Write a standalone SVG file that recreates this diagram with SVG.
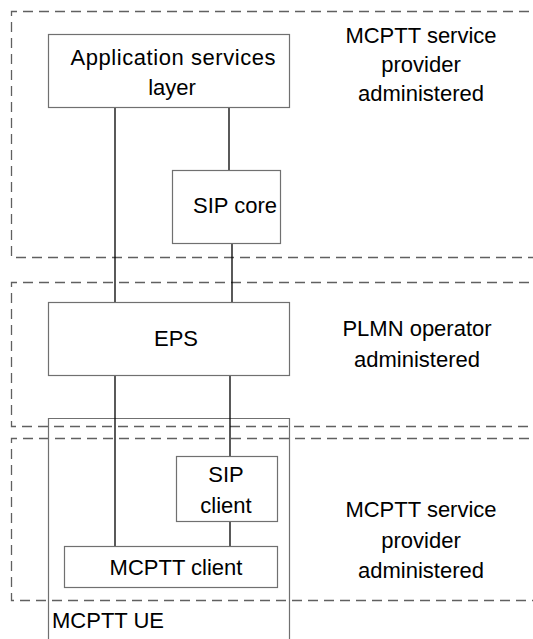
<svg xmlns="http://www.w3.org/2000/svg" width="533" height="639" viewBox="0 0 533 639">
<style>
.zone{fill:none;stroke:#606060;stroke-width:1.3;stroke-dasharray:10 6}
.box{fill:#fff;stroke:#707070;stroke-width:1.2}
.ue{fill:none;stroke:#707070;stroke-width:1.2}
.conn{stroke:#000;stroke-width:1.3;fill:none}
text{font-family:"Liberation Sans",Arial,sans-serif;font-size:22px;fill:#000}
.c{text-anchor:middle}
</style>
<rect width="533" height="639" fill="#fff"/>
<g id="zones">
<path class="zone" d="M545,11.5 H11.5 V257.5 H545"/>
<path class="zone" d="M545,282.5 H11.5 V426.5 H545"/>
<path class="zone" d="M545,438.5 H11.5 V600.5 H545"/>
</g>
<g id="ue">
<path class="ue" d="M48.5,650 V418.5 H289.5 V650"/>
<text x="52" y="628">MCPTT UE</text>
</g>
<g id="connectors">
<line class="conn" x1="115" y1="108" x2="115" y2="302"/>
<line class="conn" x1="229" y1="108" x2="229" y2="170"/>
<line class="conn" x1="232" y1="244" x2="232" y2="302"/>
<line class="conn" x1="115" y1="376" x2="115" y2="546"/>
<line class="conn" x1="230" y1="376" x2="230" y2="456"/>
<line class="conn" x1="230" y1="522" x2="230" y2="546"/>
</g>
<g id="app">
<rect class="box" x="48.5" y="34.5" width="241" height="73"/>
<text class="c" x="173" y="65" textLength="205" lengthAdjust="spacing">Application services</text>
<text class="c" x="172" y="95">layer</text>
</g>
<g id="sipcore">
<rect class="box" x="172.5" y="170.5" width="108" height="73"/>
<text class="c" x="235" y="213">SIP core</text>
</g>
<g id="eps">
<rect class="box" x="48.5" y="302.5" width="241" height="73"/>
<text class="c" x="176" y="346">EPS</text>
</g>
<g id="sipclient">
<rect class="box" x="176.5" y="456.5" width="101" height="65"/>
<text class="c" x="226" y="482">SIP</text>
<text class="c" x="226" y="513">client</text>
</g>
<g id="mcpttclient">
<rect class="box" x="64.5" y="546.5" width="213" height="41"/>
<text class="c" x="176" y="575">MCPTT client</text>
</g>
<g id="labels">
<text class="c" x="421" y="43">MCPTT service</text>
<text class="c" x="421" y="72">provider</text>
<text class="c" x="421" y="101">administered</text>
<text class="c" x="417" y="336">PLMN operator</text>
<text class="c" x="417" y="367">administered</text>
<text class="c" x="421" y="517">MCPTT service</text>
<text class="c" x="421" y="548">provider</text>
<text class="c" x="421" y="578">administered</text>
</g>
</svg>
